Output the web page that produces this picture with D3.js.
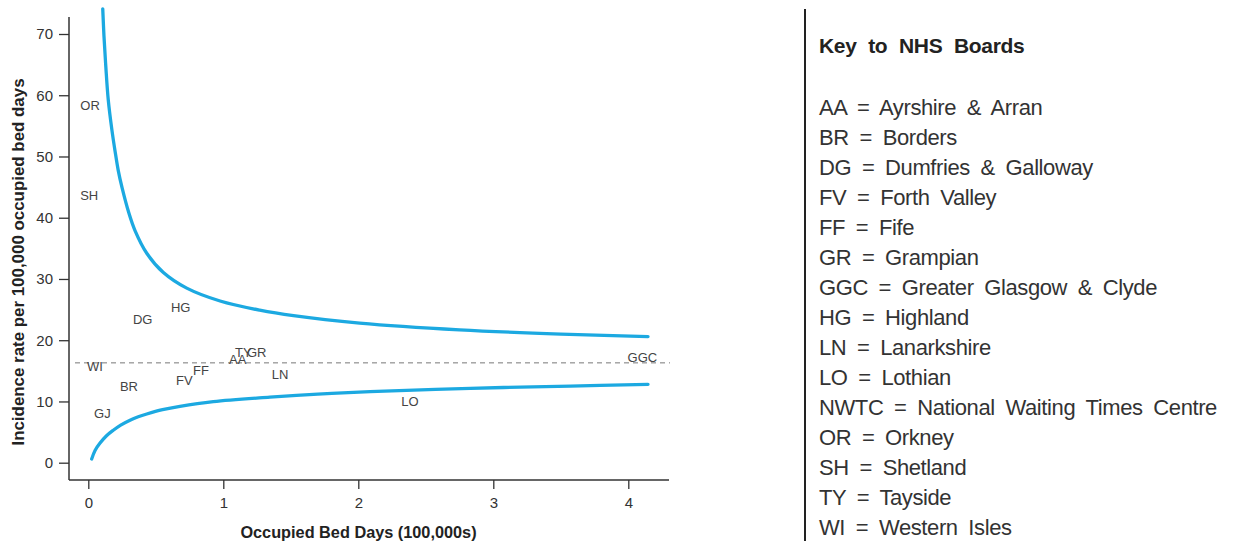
<!DOCTYPE html>
<html>
<head>
<meta charset="utf-8">
<script src="https://cdn.jsdelivr.net/npm/d3@7"></script>
<style>
  body { margin: 0; background: #fff; }
  svg { display: block; font-family: "Liberation Sans", Arial, sans-serif; }
</style>
</head>
<body>
<svg width="1241" height="541"></svg>
<script>
// funnel plot of incidence rate per NHS board, with key on the right

// board labels placed at (bed days, rate)
const boardCodes = ['OR', 'SH', 'HG', 'DG', 'WI', 'BR', 'GJ', 'FV', 'FF', 'AA', 'TY', 'GR', 'LN', 'LO', 'GGC'];
const boardX = [0.013, 0.007, 0.684, 0.403, 0.05, 0.301, 0.104, 0.711, 0.835, 1.107, 1.148, 1.247, 1.42, 2.383, 4.104];
const boardY = [58.3, 43.6, 25.4, 23.4, 15.8, 12.4, 8.1, 13.5, 15.1, 16.8, 18.0, 18.1, 14.4, 10.1, 17.2];

// overall rate (dashed line)
const meanRate = 16.3;

// control limits
const upperX = [0.107, 0.116, 0.13, 0.148, 0.175, 0.198, 0.222, 0.25, 0.30, 0.346, 0.433, 0.556, 0.729, 0.976, 1.27, 1.52, 2.01, 2.75, 3.5, 4.146];
const upperY = [74.1, 69.7, 64.6, 59.2, 54.3, 50.9, 47.7, 44.9, 40.8, 37.9, 34.2, 31.05, 28.5, 26.4, 24.9, 24.0, 22.8, 21.7, 21.0, 20.6];
const lowerX = [0.025, 0.05, 0.087, 0.135, 0.185, 0.24, 0.309, 0.37, 0.433, 0.55, 0.679, 0.926, 1.345, 1.7, 2.087, 2.83, 3.57, 4.146];
const lowerY = [0.6, 2.0, 3.2, 4.4, 5.3, 6.15, 6.95, 7.5, 7.95, 8.65, 9.2, 9.97, 10.7, 11.2, 11.6, 12.15, 12.5, 12.8];

const xTicks = [0, 1, 2, 3, 4];
const yTicks = [0, 10, 20, 30, 40, 50, 60, 70];

// key
const keyTitle = 'Key to NHS Boards';
const keyCodes = ['AA', 'BR', 'DG', 'FV', 'FF', 'GR', 'GGC', 'HG', 'LN', 'LO', 'NWTC', 'OR', 'SH', 'TY', 'WI'];
const keyNames = ['Ayrshire & Arran', 'Borders', 'Dumfries & Galloway', 'Forth Valley', 'Fife', 'Grampian',
  'Greater Glasgow & Clyde', 'Highland', 'Lanarkshire', 'Lothian', 'National Waiting Times Centre',
  'Orkney', 'Shetland', 'Tayside', 'Western Isles'];

const svg = d3.select('svg');
const blue = '#1ca9e1';
const ink = '#333';

//scales
const x = d3.scaleLinear().domain([0, 4]).range([88.3, 628.3]);
const y = d3.scaleLinear().domain([0, 70]).range([462.7, 34]);
const axisY0 = 480, axisX0 = 69;

const plot = svg.append('g');

// y axis
const yAxis = plot.append('g')
  .attr('transform', `translate(${axisX0},0)`)
  .call(d3.axisLeft(y).tickValues(yTicks).tickSize(10).tickPadding(6));
yAxis.select('.domain').remove();
yAxis.selectAll('line').attr('stroke', ink).attr('stroke-width', 1.3);
yAxis.selectAll('text').attr('font-size', 15).attr('fill', ink)
  .attr('font-family', '"Liberation Sans", Arial, sans-serif');
plot.append('line')
  .attr('x1', axisX0).attr('x2', axisX0)
  .attr('y1', 17).attr('y2', axisY0)
  .attr('stroke', ink).attr('stroke-width', 1.5);

// x axis
const xAxis = plot.append('g')
  .attr('transform', `translate(0,${axisY0})`)
  .call(d3.axisBottom(x).tickValues(xTicks).tickFormat(d3.format('d')).tickSize(9).tickPadding(8));
xAxis.select('.domain').remove();
xAxis.selectAll('line').attr('stroke', ink).attr('stroke-width', 1.3);
xAxis.selectAll('text').attr('font-size', 15).attr('fill', ink)
  .attr('font-family', '"Liberation Sans", Arial, sans-serif');
plot.append('line')
  .attr('x1', axisX0).attr('x2', 669)
  .attr('y1', axisY0).attr('y2', axisY0)
  .attr('stroke', ink).attr('stroke-width', 1.5);

// axis titles
plot.append('text')
  .attr('transform', 'translate(24,262) rotate(-90)')
  .attr('text-anchor', 'middle')
  .attr('font-size', 16.9).attr('font-weight', 'bold').attr('fill', '#222')
  .text('Incidence rate per 100,000 occupied bed days');
plot.append('text')
  .attr('x', 358.5).attr('y', 538)
  .attr('text-anchor', 'middle')
  .attr('font-size', 16.3).attr('font-weight', 'bold').attr('fill', '#222')
  .text('Occupied Bed Days (100,000s)');

// mean line
plot.append('line')
  .attr('x1', 75).attr('x2', 670)
  .attr('y1', y(meanRate)).attr('y2', y(meanRate))
  .attr('stroke', '#777').attr('stroke-width', 1)
  .attr('stroke-dasharray', '5,4');

// funnel limits
const line = d3.line().x(d => x(d[0])).y(d => y(d[1])).curve(d3.curveCatmullRom.alpha(0.5));
const upper = upperX.map((v, i) => [v, upperY[i]]);
const lower = lowerX.map((v, i) => [v, lowerY[i]]);
plot.selectAll('path.limit')
  .data([upper, lower])
  .enter()
  .append('path')
    .attr('class', 'limit')
    .attr('d', line)
    .attr('fill', 'none')
    .attr('stroke', blue)
    .attr('stroke-width', 3.3)
    .attr('stroke-linecap', 'round');

// board labels as points
plot.append('g')
  .selectAll('text')
  .data(boardCodes)
  .enter()
  .append('text')
    .text(d => d)
    .attr('x', (d, i) => x(boardX[i]))
    .attr('y', (d, i) => y(boardY[i]))
    .attr('dy', '0.36em')
    .attr('text-anchor', 'middle')
    .attr('font-size', 13)
    .attr('fill', '#444');

// key panel
svg.append('line')
  .attr('x1', 805).attr('x2', 805)
  .attr('y1', 9).attr('y2', 541)
  .attr('stroke', '#222').attr('stroke-width', 2);
svg.append('text')
  .attr('x', 819).attr('y', 52.7)
  .attr('font-size', 21).attr('font-weight', 'bold')
  .attr('letter-spacing', -0.3).attr('word-spacing', 6)
  .attr('fill', '#222')
  .text(keyTitle);
svg.append('g')
  .selectAll('text')
  .data(keyCodes)
  .enter()
  .append('text')
    .attr('x', 819)
    .attr('y', (d, i) => 115 + i * 30)
    .attr('font-size', 22)
    .attr('letter-spacing', -0.4)
    .attr('word-spacing', 5)
    .attr('fill', ink)
    .text((d, i) => d + ' = ' + keyNames[i]);
</script>
</body>
</html>
